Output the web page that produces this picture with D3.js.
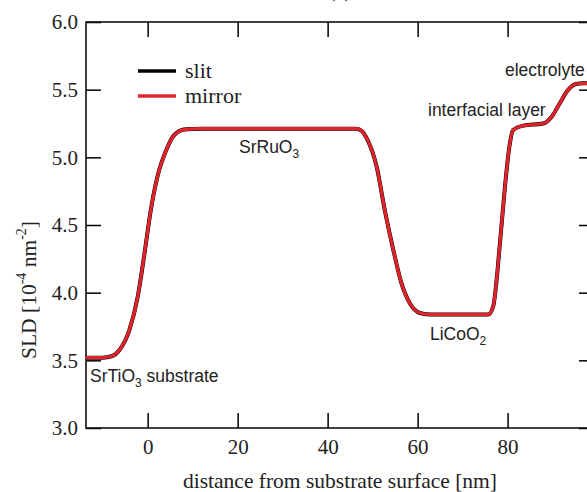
<!DOCTYPE html>
<html><head><meta charset="utf-8">
<script src="https://cdn.jsdelivr.net/npm/d3@7"></script>
<style>body{margin:0;background:#fff}svg{display:block}</style>
</head><body>
<script>
// distance from substrate surface [nm]
const depth = [-13.7,-10,-8,-6.3,-4.1,-2.2,-0.7,0.7,2.2,4.1,5.9,8.5,12,46.4,47.6,48.7,50.9,52.7,54.6,56.4,58.3,60.5,63,75.7,76.8,78.3,79.4,80.4,81.2,83.5,87.9,89.8,91.6,93.5,95,96.8,99.2];
// SLD [10^-4 nm^-2]
const slit   = [3.52,3.52,3.53,3.575,3.72,3.97,4.29,4.61,4.86,5.05,5.165,5.207,5.212,5.212,5.195,5.14,4.93,4.61,4.315,4.07,3.92,3.85,3.838,3.838,3.90,4.365,4.78,5.08,5.20,5.234,5.25,5.30,5.40,5.50,5.54,5.547,5.547];
const mirror = [3.52,3.52,3.53,3.575,3.72,3.97,4.29,4.61,4.86,5.05,5.165,5.207,5.212,5.212,5.195,5.14,4.93,4.61,4.315,4.07,3.92,3.85,3.838,3.838,3.90,4.365,4.78,5.08,5.20,5.234,5.25,5.30,5.40,5.50,5.54,5.547,5.547];
const xTicks = [0,20,40,60,80];
const yTicks = [3.0,3.5,4.0,4.5,5.0,5.5,6.0];
const seriesNames = ["slit","mirror"];
const seriesColors = ["#000000","#e0222b"];

const W = 587, H = 492;
const L = 86, R = 594, T = 22, B = 428;
const svg = d3.select("body").append("svg").attr("width",W).attr("height",H);
const x = d3.scaleLinear().domain([-13.7,99.2]).range([L,R]);
const y = d3.scaleLinear().domain([3,6]).range([B,T]);
const serif = "'Liberation Serif','Times New Roman',serif";
const sans = "'Liberation Sans',Arial,sans-serif";

// axes with inward ticks
const tl = 15;
svg.append("g").attr("transform",`translate(0,${B})`)
  .call(d3.axisBottom(x).tickValues(xTicks).tickSizeInner(-tl).tickSizeOuter(0).tickPadding(11).tickFormat(d3.format("d")))
  .call(g=>{g.select(".domain").remove();g.selectAll("line").attr("stroke-width",1.5);g.selectAll("text").attr("font-family",serif).attr("font-size",21).attr("fill","#222");});
svg.append("g").attr("transform",`translate(0,${T})`)
  .call(d3.axisTop(x).tickValues(xTicks).tickSizeInner(-tl).tickSizeOuter(0).tickFormat(""))
  .call(g=>{g.select(".domain").remove();g.selectAll("line").attr("stroke-width",1.5);});
svg.append("g").attr("transform",`translate(${L},0)`)
  .call(d3.axisLeft(y).tickValues(yTicks).tickSizeInner(-tl).tickSizeOuter(0).tickPadding(8).tickFormat(d3.format(".1f")))
  .call(g=>{g.select(".domain").remove();g.selectAll("line").attr("stroke-width",1.5);g.selectAll("text").attr("font-family",serif).attr("font-size",21).attr("fill","#222");});
svg.append("g").attr("transform",`translate(${R},0)`)
  .call(d3.axisRight(y).tickValues(yTicks).tickSizeInner(-tl).tickSizeOuter(0).tickFormat(""))
  .call(g=>{g.select(".domain").remove();g.selectAll("line").attr("stroke-width",1.5);});
svg.append("rect").attr("x",L).attr("y",T).attr("width",R-L).attr("height",B-T)
  .attr("fill","none").attr("stroke","#111").attr("stroke-width",1.6);

// curves
const line = d3.line().x(d=>x(d[0])).y(d=>y(d[1])).curve(d3.curveMonotoneX);
svg.append("path").datum(depth.map((d,i)=>[d,slit[i]]))
  .attr("d",line).attr("fill","none").attr("stroke",seriesColors[0]).attr("stroke-width",4);
svg.append("path").datum(depth.map((d,i)=>[d,mirror[i]]))
  .attr("d",line).attr("fill","none").attr("stroke",seriesColors[1]).attr("stroke-width",3.2);

// legend
seriesNames.forEach((n,i)=>{
  const yy = 71 + i*25;
  svg.append("line").attr("x1",138).attr("x2",176).attr("y1",yy).attr("y2",yy)
    .attr("stroke",seriesColors[i]).attr("stroke-width",3.5);
  svg.append("text").attr("x",185).attr("y",yy+7).text(n)
    .attr("font-family",serif).attr("font-size",22).attr("fill","#222");
});

// annotations
function ann(tx,ty,parts){
  const t = svg.append("text").attr("x",tx).attr("y",ty).attr("font-family",sans).attr("font-size",17.5).attr("fill","#222");
  parts.forEach(p=>{
    const s = t.append("tspan").text(p[0]);
    if(p[1]==="sub") s.attr("font-size",12).attr("dy",5);
    if(p[1]==="back") s.attr("dy",-5);
  });
}
ann(90,382,[["SrTiO"],["3","sub"],[" substrate","back"]]);
ann(239,153,[["SrRuO"],["3","sub"]]);
ann(430,340,[["LiCoO"],["2","sub"]]);
ann(428,116,[["interfacial layer"]]);
ann(505,76,[["electrolyte"]]);

// axis titles
svg.append("text").attr("x",340).attr("y",488).attr("text-anchor","middle")
  .attr("font-family",serif).attr("font-size",21.5).attr("fill","#222")
  .text("distance from substrate surface [nm]");
const yt = svg.append("text").attr("transform","translate(36,290) rotate(-90)").attr("text-anchor","middle")
  .attr("font-family",serif).attr("font-size",21.5).attr("fill","#222");
yt.append("tspan").text("SLD [10");
yt.append("tspan").text("-4").attr("font-size",14).attr("dy",-10);
yt.append("tspan").text(" nm").attr("dy",10);
yt.append("tspan").text("-2").attr("font-size",14).attr("dy",-10);
yt.append("tspan").text("]").attr("dy",10);

// panel label (cut off at top in the reference)
svg.append("text").attr("x",340).attr("y",-3).attr("text-anchor","middle")
  .attr("font-family",serif).attr("font-size",20).attr("fill","#222").text("(a)");
</script>
</body></html>
